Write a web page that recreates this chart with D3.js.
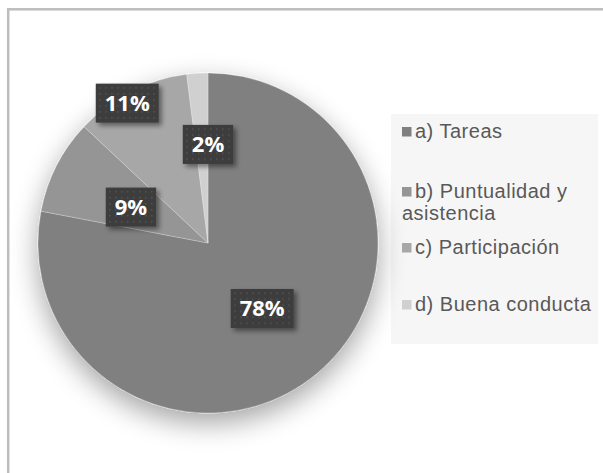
<!DOCTYPE html>
<html>
<head>
<meta charset="utf-8">
<script src="https://cdn.jsdelivr.net/npm/d3@7"></script>
<style>
  html, body { margin: 0; padding: 0; background: #ffffff; }
  svg { display: block; }
</style>
</head>
<body>
<svg id="chart" width="603" height="473"></svg>
<script>
// Categories and their shares (percent)
const categories = ["a) Tareas", "b) Puntualidad y asistencia", "c) Participación", "d) Buena conducta"];
const legendLines = [["a) Tareas"], ["b) Puntualidad y", "asistencia"], ["c) Participación"], ["d) Buena conducta"]];
const values = [78, 9, 11, 2];
const labels = ["78%", "9%", "11%", "2%"];
const colors = ["#808080", "#959595", "#a7a7a7", "#d0d0d0"];

// Label placement: fraction of radius and angular nudge (degrees)
const labelRadius = [0.50, 0.50, 0.95, 0.58];
const labelNudge = [0, -2, -3, 3.6];

const svg = d3.select("#chart");
const W = 603, H = 473;
const cx = 208, cy = 243, R = 170;

const defs = svg.append("defs");

// soft glow-shadow under the pie
const pf = defs.append("filter").attr("id", "pieShadow")
  .attr("x", "-40%").attr("y", "-40%").attr("width", "180%").attr("height", "180%");
pf.append("feGaussianBlur").attr("in", "SourceAlpha").attr("stdDeviation", 14).attr("result", "b");
pf.append("feOffset").attr("in", "b").attr("dx", 0).attr("dy", 10).attr("result", "o");
pf.append("feComponentTransfer").attr("in", "o").attr("result", "s")
  .append("feFuncA").attr("type", "linear").attr("slope", 0.36);
const pm = pf.append("feMerge");
pm.append("feMergeNode").attr("in", "s");
pm.append("feMergeNode").attr("in", "SourceGraphic");

// shadow for label boxes
const lf = defs.append("filter").attr("id", "boxShadow")
  .attr("x", "-30%").attr("y", "-30%").attr("width", "170%").attr("height", "170%");
lf.append("feGaussianBlur").attr("in", "SourceAlpha").attr("stdDeviation", 2.5).attr("result", "b");
lf.append("feOffset").attr("in", "b").attr("dx", 3).attr("dy", 3).attr("result", "o");
lf.append("feComponentTransfer").attr("in", "o").attr("result", "s")
  .append("feFuncA").attr("type", "linear").attr("slope", 0.45);
const lm = lf.append("feMerge");
lm.append("feMergeNode").attr("in", "s");
lm.append("feMergeNode").attr("in", "SourceGraphic");

// dotted texture for label boxes
const pat = defs.append("pattern").attr("id", "dots")
  .attr("patternUnits", "userSpaceOnUse").attr("width", 6).attr("height", 6);
pat.append("rect").attr("width", 6).attr("height", 6).attr("fill", "#3c3c3c");
pat.append("rect").attr("x", 2).attr("y", 2).attr("width", 1.5).attr("height", 1.5).attr("fill", "#555555");

// background and frame
svg.append("rect").attr("width", W).attr("height", H).attr("fill", "#ffffff");
svg.append("rect").attr("x", 8.2).attr("y", 9.3).attr("width", 700).attr("height", 700)
  .attr("fill", "none").attr("stroke", "#bdbdbd").attr("stroke-width", 2.5);

// legend panel
svg.append("rect").attr("x", 391).attr("y", 114).attr("width", 207).attr("height", 230)
  .attr("fill", "#f6f6f6");

// pie
const pie = d3.pie().sort(null).value(d => d);
const arcs = pie(values);
const arc = d3.arc().innerRadius(0).outerRadius(R);

const g = svg.append("g").attr("transform", `translate(${cx},${cy})`);
const slices = g.append("g").attr("filter", "url(#pieShadow)");
slices.selectAll("path").data(arcs).join("path")
  .attr("d", arc)
  .attr("fill", (d, i) => colors[i])
  .attr("stroke", "#ffffff").attr("stroke-opacity", 0.25).attr("stroke-width", 1);

// data labels
const lg = g.append("g");
arcs.forEach((d, i) => {
  const a = (d.startAngle + d.endAngle) / 2 + labelNudge[i] * Math.PI / 180;
  const r = R * labelRadius[i];
  const x = Math.sin(a) * r, y = -Math.cos(a) * r;
  const grp = lg.append("g").attr("transform", `translate(${x},${y})`);
  const t = grp.append("text")
    .attr("text-anchor", "middle").attr("dy", "0.36em")
    .attr("font-family", "'Open Sans', sans-serif").attr("font-weight", 700)
    .attr("font-size", 22).attr("fill", "#ffffff")
    .text(labels[i]);
  const w = t.node().getComputedTextLength() + 18;
  grp.insert("rect", "text")
    .attr("x", -w / 2).attr("y", -19.5).attr("width", w).attr("height", 39)
    .attr("fill", "url(#dots)").attr("filter", "url(#boxShadow)");
});

// legend
const legendBase = [138, 198, 254, 311];
const leg = svg.append("g");
legendLines.forEach((lines, i) => {
  const y = legendBase[i];
  leg.append("rect").attr("x", 402).attr("y", y - 11).attr("width", 9.5).attr("height", 9.5)
    .attr("fill", colors[i]);
  lines.forEach((s, j) => {
    leg.append("text")
      .attr("x", j === 0 ? 415 : 402).attr("y", y + j * 22)
      .attr("font-family", "'Liberation Sans', Arial, sans-serif")
      .attr("font-size", 20).attr("letter-spacing", 0.5)
      .attr("fill", "#595959")
      .text(s);
  });
});
</script>
</body>
</html>
